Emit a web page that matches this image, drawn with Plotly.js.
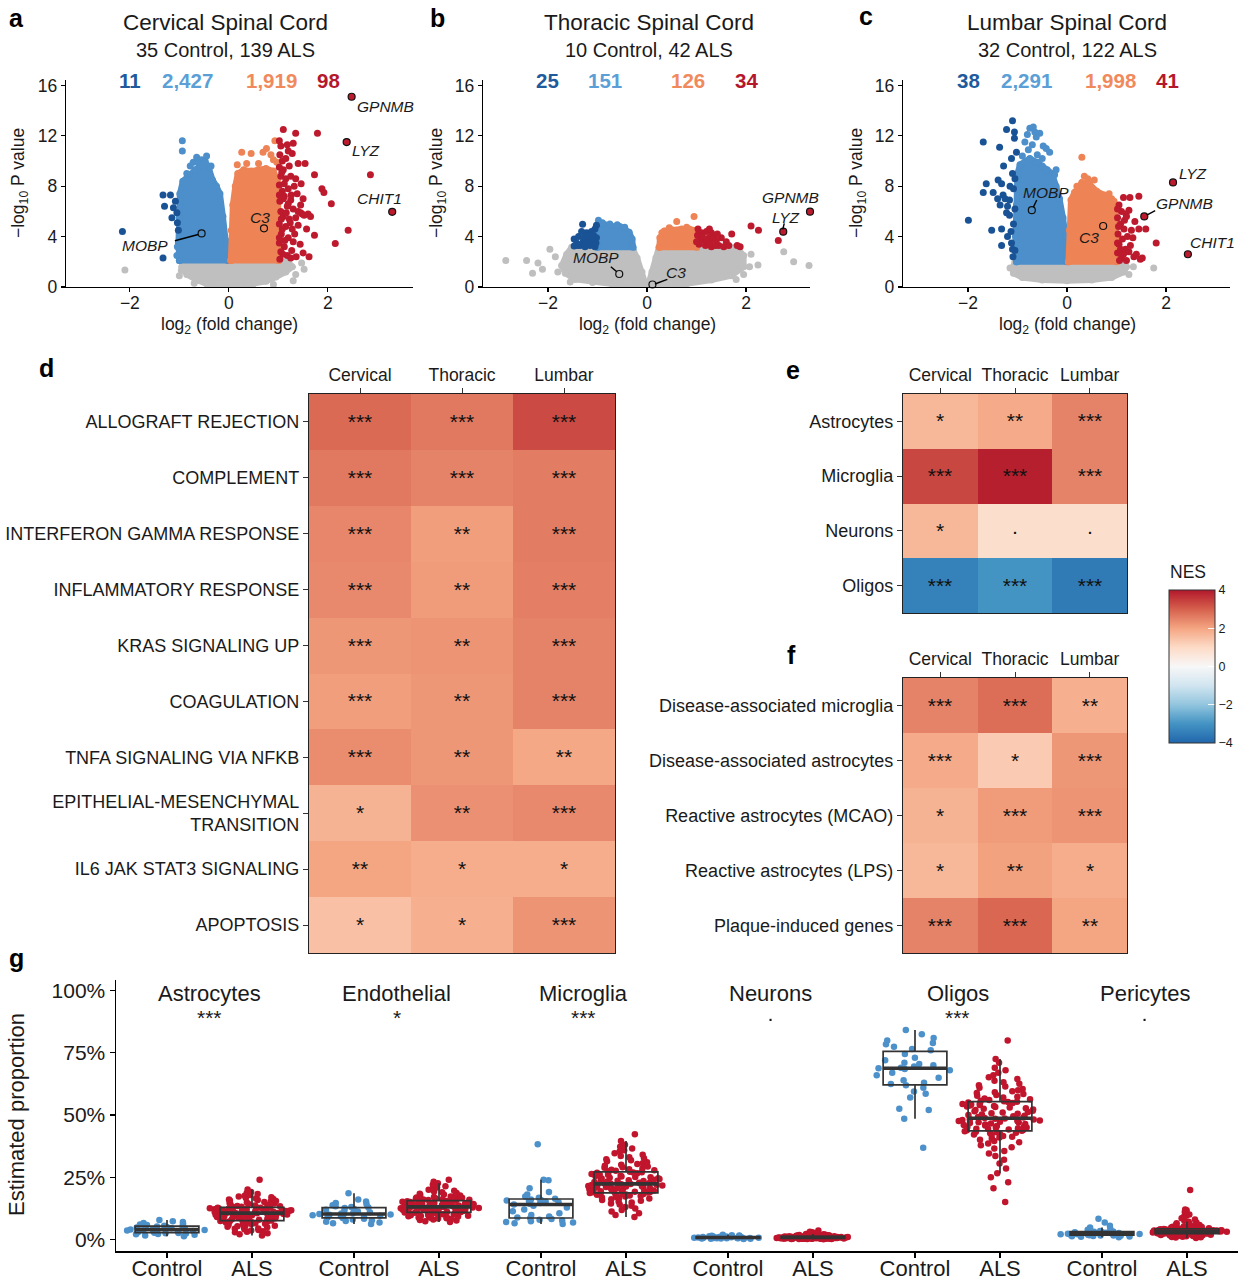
<!DOCTYPE html>
<html><head><meta charset="utf-8">
<script src="https://cdn.plot.ly/plotly-3.0.1.min.js"></script>
<style>html,body{margin:0;padding:0;background:#fff}#chart{width:1246px;height:1280px}</style>
</head><body><div id="chart"></div>
<script>
// ================= DATA =================
// ---- Panel a: Cervical volcano (log2FC, -log10 P) ----
const cervCounts = ['11','2,427','1,919','98'];
const cervGreyPolyX = [-0.88,-0.95,-0.85,-0.65,-0.45,-0.2,0,0.25,0.5,0.75,0.95,1.15,1.28,1.2,1.0,0.5,0,-0.5];
const cervGreyPolyY = [2.1,1.6,1.0,0.55,0.25,0.08,0.02,0.1,0.25,0.45,0.8,1.2,1.6,2.0,2.1,2.1,2.1,2.1];
const cervGreyX = [-2.1,-0.96,1.47,1.52,1.35,-1.0,1.3,0.9,-0.7];
const cervGreyY = [1.35,1.3,1.9,1.4,1.0,0.9,0.5,0.2,0.3];
const cervLBPolyX = [-1.0,-1.02,-1.0,-0.99,-0.93,-0.8,-0.68,-0.58,-0.48,-0.4,-0.33,-0.25,-0.18,-0.12,-0.06,-0.02];
const cervLBPolyY = [2.1,3.5,5.5,7.4,8.4,8.9,9.3,9.6,10.0,9.4,8.5,8.0,7.4,5.6,3.7,2.1];
const cervLBX = [-0.94,-0.94,-0.65,-0.78,-0.55,-0.45,-0.85,-1.04,-1.05,-0.72,-0.62,-0.36];
const cervLBY = [11.6,10.8,10.3,9.6,10.1,10.4,9.0,3.2,2.5,9.9,9.9,9.6];
const cervDBX = [-2.15,-1.33,-1.18,-1.3,-1.12,-1.05,-1.04,-1.33,-1.08,-1.02,-1.15];
const cervDBY = [4.4,7.3,7.3,6.4,6.3,5.9,5.1,2.3,6.8,4.5,5.5];
const cervORPolyX = [0.04,0.05,0.08,0.13,0.18,0.3,0.45,0.6,0.75,0.9,0.98,1.0,1.0];
const cervORPolyY = [2.1,4.5,6.5,8.0,9.0,9.3,9.2,9.3,9.4,9.2,8.5,6.0,2.1];
const cervORX = [0.17,0.26,0.36,0.45,0.6,0.69,0.76,0.85,0.93,0.9,0.97];
const cervORY = [9.7,10.7,9.8,10.6,9.8,10.7,11.0,10.5,11.6,10.1,9.9];
const cervRedX = [1.1,1.35,1.79,2.86,2.41,2.15,2.07,1.88,1.92,1.73,1.73,1.54,1.6,1.65,1.45,
  1.02,1.05,1.03,1.08,1.02,1.1,1.05,1.15,1.02,1.08,1.2,1.12,1.03,1.25,1.18,1.05,1.3,1.1,1.22,1.02,
  1.35,1.15,1.28,1.06,1.2,1.02,1.12,1.3,1.05,1.18,1.03,1.25,1.4,1.45,1.38,1.32,1.22,1.28,1.2,1.4,
  1.15,1.48,1.52,1.25,1.35,1.1,1.16,1.08,1.24,1.33,1.44,1.13,1.27,1.09,1.36,1.5,1.02,1.07,1.18,1.3,
  1.02,1.57,1.62,1.4,1.5,1.46,1.26,1.12,1.2,1.06];
const cervRedY = [12.5,12.2,12.2,8.9,4.5,3.45,6.6,7.8,7.5,8.9,4.1,9.8,5.8,5.6,5.9,
  11.6,11.2,10.5,10.0,9.5,9.3,8.8,8.6,8.1,7.6,7.8,7.2,6.8,6.9,6.4,6.0,6.2,5.6,5.4,5.0,
  5.5,4.8,4.6,4.2,3.9,3.5,3.2,3.6,2.8,2.5,2.2,2.3,4.9,6.5,7.4,8.0,9.6,10.6,10.8,9.8,
  10.2,5.8,5.7,8.8,8.6,7.0,5.9,4.6,5.1,4.2,3.4,3.7,2.9,2.6,2.4,2.7,7.3,9.1,11.3,11.4,
  3.9,4.6,2.4,6.0,7.0,8.2,7.3,8.2,6.6,5.4];
const cervGeneNames = ['GPNMB','LYZ','CHIT1','MOBP','C3'];
const cervGeneX = [2.48,2.38,3.3,-0.55,0.71];
const cervGeneY = [15.1,11.5,5.97,4.25,4.66];

// ---- Panel b: Thoracic volcano ----
const thorCounts = ['25','151','126','34'];
const thorGreyLPolyX = [-1.72,-1.62,-1.52,-1.0,-0.5,-0.3,-0.2,-0.1,-0.02,-0.3,-0.7,-1.1,-1.45,-1.65];
const thorGreyLPolyY = [1.7,2.6,3.15,3.15,3.15,3.15,2.3,1.2,0.1,0.05,0.2,0.35,0.6,1.1];
const thorGreyRPolyX = [0.02,0.1,0.18,0.24,1.0,1.5,1.8,1.95,1.95,1.7,1.3,0.8,0.3];
const thorGreyRPolyY = [0.1,1.2,2.3,3.15,3.15,3.15,3.15,2.5,1.6,0.9,0.55,0.25,0.05];
const thorGreyX = [-2.85,-2.43,-2.31,-2.11,-1.96,-1.85,-1.8,-2.2,2.07,2.24,2.76,2.96,3.27,2.1,1.95,-1.55,1.8];
const thorGreyY = [2.1,2.1,1.1,1.4,3.0,2.4,1.2,1.9,1.6,1.75,2.8,2.0,1.7,2.6,1.0,0.4,0.6];
const thorLBPolyX = [-1.0,-1.02,-0.95,-0.85,-0.7,-0.55,-0.45,-0.36,-0.3,-0.28];
const thorLBPolyY = [3.15,4.6,5.05,4.95,4.8,4.8,4.6,4.35,3.8,3.15];
const thorLBX = [-0.98,-0.6,-0.45,-0.75,-0.9];
const thorLBY = [5.3,4.95,4.75,5.0,5.1];
const thorDBX = [-1.3,-1.47,-1.47,-1.42,-1.35,-1.25,-1.15,-1.05,-1.38,-1.28,-1.18,-1.1,-1.02,-1.22,-1.12,-1.05,-1.32,-1.02,-1.08,-1.4,-1.2,-1.3,-1.15,-1.03,-1.25];
const thorDBY = [4.98,3.8,3.25,3.5,3.3,3.2,3.3,3.2,4.0,3.7,3.8,3.6,3.9,4.3,4.4,4.6,4.4,4.9,4.1,3.3,3.5,3.5,4.0,3.5,4.0];
const thorORPolyX = [0.25,0.26,0.35,0.5,0.7,0.85,0.98,1.0];
const thorORPolyY = [3.15,3.9,4.45,4.55,4.6,4.6,4.5,3.15];
const thorORX = [0.6,0.95,0.3,0.45,0.8];
const thorORY = [5.2,5.6,4.3,4.7,4.75];
const thorRedX = [2.65,2.1,2.25,1.71,1.88,1.82,1.6,1.5,1.45,1.3,1.03,1.1,1.2,1.3,1.08,1.15,1.25,1.35,1.05,1.18,1.4,1.02,1.12,1.22,1.28,1.32,1.38,1.42,1.55,1.65,1.0,1.26];
const thorRedY = [3.7,4.84,4.5,4.2,3.2,3.3,3.6,3.9,3.3,3.2,4.6,4.3,4.4,4.3,3.9,3.7,3.9,4.0,3.4,3.3,3.7,4.1,4.0,3.6,3.4,3.8,3.3,4.2,3.2,3.3,3.6,4.6];
const thorGeneNames = ['GPNMB','LYZ','CHIT1','MOBP','C3'];
const thorGeneX = [3.29,2.75,3.3,-0.56,0.11];
const thorGeneY = [5.98,4.39,2.6,1.03,0.2];

// ---- Panel c: Lumbar volcano ----
const lumbCounts = ['38','2,291','1,998','41'];
const lumbGreyPolyX = [-1.1,-1.05,-0.5,0,0.5,1.1,1.2,1.15,0.9,0.5,0,-0.5,-0.9,-1.08];
const lumbGreyPolyY = [1.5,2.0,2.05,2.05,2.05,2.0,1.6,1.2,0.75,0.55,0.5,0.55,0.75,1.1];
const lumbGreyX = [1.34,1.75,-1.15,1.25];
const lumbGreyY = [1.6,1.5,1.5,1.0];
const lumbLBPolyX = [-1.02,-1.04,-1.02,-1.0,-0.95,-0.85,-0.75,-0.6,-0.5,-0.4,-0.3,-0.22,-0.15,-0.08,-0.03,0];
const lumbLBPolyY = [2.0,4.0,6.5,9.0,9.7,9.9,10.2,9.9,9.6,9.3,9.0,8.0,7.0,5.5,4.0,2.0];
const lumbLBX = [-0.75,-0.68,-0.55,-0.62,-0.48,-0.35,-0.42,-0.7,-0.78,-0.85,-0.9,-0.6,-0.5,-0.22,-0.25,-0.65,-0.8];
const lumbLBY = [12.6,12.7,12.2,11.9,11.2,10.7,11.0,11.3,10.9,11.5,10.4,10.5,10.2,9.3,8.9,12.3,12.1];
const lumbDBX = [-1.99,-1.69,-1.36,-1.22,-1.1,-1.06,-1.02,-1.12,-1.39,-1.32,-1.63,-1.69,-1.49,-1.29,-1.16,-1.52,-1.32,-1.32,-1.16,-1.09,
  -1.05,-1.12,-1.2,-1.08,-1.25,-1.1,-1.15,-1.05,-1.4,-1.22,-1.08,-1.13,-1.28,-1.05,-1.35,-1.1,-1.2,-1.06];
const lumbDBY = [5.3,11.5,11.1,12.5,13.2,12.3,10.7,10.2,8.5,8.2,8.2,7.5,7.5,7.3,6.9,4.5,4.6,3.3,5.7,2.4,
  2.9,3.5,6.4,7.8,7.0,9.0,8.0,6.2,7.0,5.9,5.0,4.4,9.6,8.6,6.5,3.0,4.0,11.8];
const lumbORPolyX = [0.03,0.05,0.08,0.15,0.3,0.45,0.6,0.75,0.9,0.98,1.0,1.0];
const lumbORPolyY = [2.0,4.5,6.9,7.5,8.3,8.2,7.6,7.3,7.0,6.0,4.0,2.0];
const lumbORX = [0.3,0.35,0.2,0.55,0.85,0.95,0.42];
const lumbORY = [10.3,8.8,8.0,8.5,7.4,6.8,8.6];
const lumbRedX = [1.27,1.45,1.14,1.19,1.37,1.59,1.8,1.52,1.35,1.05,1.1,1.02,1.08,1.15,1.03,1.12,1.05,1.18,1.02,1.1,
  1.25,1.22,1.3,1.45,1.4,1.06,1.2,1.28,1.16,1.02,1.08,1.14,1.33,1.25,1.04,1.48,1.02,1.2];
const lumbRedY = [7.1,7.2,7.1,5.8,5.2,4.6,3.5,2.3,2.4,6.5,6.0,5.5,5.0,4.6,4.2,3.8,3.4,3.0,2.7,2.3,
  2.8,4.0,4.5,4.6,2.6,2.1,2.1,3.3,5.3,6.2,3.0,2.6,3.9,6.1,4.8,2.2,3.5,5.6];
const lumbGeneNames = ['LYZ','GPNMB','CHIT1','MOBP','C3'];
const lumbGeneX = [2.14,1.56,2.44,-0.71,0.73];
const lumbGeneY = [8.3,5.6,2.6,6.1,4.84];

// ---- Panel d: Hallmark NES ----
const regions = ['Cervical','Thoracic','Lumbar'];
const hallmarkNames = ['ALLOGRAFT REJECTION','COMPLEMENT','INTERFERON GAMMA RESPONSE','INFLAMMATORY RESPONSE','KRAS SIGNALING UP','COAGULATION','TNFA SIGNALING VIA NFKB','EPITHELIAL-MESENCHYMAL<br>TRANSITION','IL6 JAK STAT3 SIGNALING','APOPTOSIS'];
const hallmarkNES = [[2.85,2.65,3.3],[2.65,2.5,2.6],[2.45,2.1,2.6],[2.4,2.15,2.55],[2.2,2.25,2.5],[2.1,2.2,2.5],[2.35,2.2,1.95],[1.75,2.3,2.4],[2.0,1.85,1.85],[1.5,1.8,2.25]];
const hallmarkSig = [['***','***','***'],['***','***','***'],['***','**','***'],['***','**','***'],['***','**','***'],['***','**','***'],['***','**','**'],['*','**','***'],['**','*','*'],['*','*','***']];

// ---- Panel e: cell type NES ----
const cellTypes = ['Astrocytes','Microglia','Neurons','Oligos'];
const cellNES = [[1.65,1.9,2.5],[3.35,3.9,2.5],[1.65,0.9,0.9],[-3.4,-3.0,-3.55]];
const cellSig = [['*','**','***'],['***','***','***'],['*','·','·'],['***','***','***']];

// ---- Panel f: glial activation sets NES ----
const glialSets = ['Disease-associated microglia','Disease-associated astrocytes','Reactive astrocytes (MCAO)','Reactive astrocytes (LPS)','Plaque-induced genes'];
const glialNES = [[2.5,2.8,1.8],[1.9,1.3,2.2],[1.75,2.15,2.25],[1.65,2.05,1.85],[2.5,2.9,2.0]];
const glialSig = [['***','***','**'],['***','*','***'],['*','***','***'],['*','**','*'],['***','***','**']];

// ---- Panel g: estimated proportions (%) ----
const gCellTypes = ['Astrocytes','Endothelial','Microglia','Neurons','Oligos','Pericytes'];
const gSig = ['***','*','***','·','***','·'];
const gGroups = ['Control','ALS'];
const gYTicks = [0,25,50,75,100];
const gYTickText = ['0%','25%','50%','75%','100%'];
const astroControl = [1.2,1.5,1.8,2.0,2.1,2.3,2.4,2.5,2.6,2.8,3.0,3.1,3.3,3.5,3.6,3.7,3.8,3.9,4.0,4.2,4.3,4.5,4.6,4.8,5.0,5.2,5.3,5.5,5.8,6.0,6.3,6.6,7.0,7.3,7.8];
const astroALS = [1.5,2.0,2.4,2.8,3.0,3.2,3.5,3.7,4.0,4.2,4.4,4.6,4.9,5.1,5.3,5.5,5.7,5.9,6.0,6.2,6.3,6.5,6.6,6.8,6.9,7.0,7.1,7.2,7.3,7.4,
  7.6,7.7,7.8,7.9,8.0,8.1,8.2,8.4,8.5,8.6,8.7,8.8,8.9,9.0,9.1,9.2,9.3,9.4,9.5,9.6,9.7,9.8,9.9,10.0,10.1,10.2,10.2,10.3,10.4,10.5,
  10.6,10.6,10.7,10.8,10.9,11.0,11.0,11.1,11.2,11.3,11.4,11.5,11.5,11.6,11.7,11.8,11.9,12.0,12.0,12.1,12.2,12.3,12.3,12.4,12.5,12.5,12.6,12.7,12.7,12.8,
  12.9,13.0,13.1,13.3,13.4,13.6,13.8,14.0,14.2,14.4,14.6,14.8,15.0,15.2,15.4,15.6,15.8,16.0,16.2,16.4,16.6,16.9,17.2,17.5,17.8,18.2,18.6,19.0,20.0,24.0];
const endoControl = [6.2,6.5,6.8,7.1,7.4,7.7,8.0,8.3,8.6,8.8,9.0,9.3,9.5,9.7,9.9,10.0,10.1,10.2,10.4,10.6,10.9,11.2,11.5,11.9,12.3,12.6,12.8,13.0,13.3,13.7,14.1,14.6,15.2,16.0,18.5];
const endoALS = [7.0,7.3,7.6,7.8,8.0,8.2,8.4,8.5,8.7,8.8,9.0,9.1,9.2,9.3,9.4,9.5,9.6,9.7,9.8,9.9,10.0,10.1,10.2,10.3,10.4,10.5,10.5,10.6,10.7,10.8,
  10.9,11.0,11.0,11.1,11.2,11.3,11.3,11.4,11.5,11.6,11.7,11.8,11.8,11.9,12.0,12.0,12.1,12.2,12.3,12.3,12.4,12.5,12.5,12.6,12.7,12.7,12.8,12.9,12.9,13.0,
  13.1,13.1,13.2,13.3,13.4,13.4,13.5,13.6,13.7,13.8,13.9,14.0,14.0,14.1,14.2,14.3,14.4,14.5,14.6,14.7,14.8,14.9,15.0,15.0,15.1,15.2,15.3,15.3,15.4,15.5,
  15.6,15.7,15.8,15.9,16.0,16.1,16.2,16.4,16.5,16.7,16.8,17.0,17.2,17.4,17.6,17.8,18.0,18.3,18.6,18.9,19.2,19.5,19.9,20.3,20.8,21.3,21.9,22.5,23.2,24.0];
const microControl = [6.2,6.5,6.8,7.0,7.3,7.6,7.9,8.2,8.5,8.8,9.2,9.8,10.5,11.3,12.0,12.8,13.5,14.0,14.3,14.6,14.9,15.2,15.4,15.6,15.8,16.0,16.3,16.7,17.2,18.0,19.0,20.5,23.8,24.0,38.2];
const microALS = [9.0,9.8,10.5,11.2,11.8,12.4,13.0,13.5,14.0,14.4,14.8,15.2,15.5,15.8,16.1,16.4,16.6,16.8,17.0,17.2,17.4,17.6,17.8,17.9,18.0,18.1,18.2,18.4,18.5,18.6,
  18.8,18.9,19.0,19.1,19.2,19.3,19.4,19.5,19.6,19.7,19.8,20.0,20.1,20.2,20.4,20.5,20.6,20.8,20.9,21.0,21.2,21.3,21.4,21.6,21.7,21.8,21.9,22.0,22.1,22.2,
  22.4,22.5,22.6,22.8,23.0,23.1,23.3,23.5,23.6,23.8,24.0,24.1,24.3,24.5,24.6,24.8,25.0,25.1,25.3,25.5,25.6,25.8,26.0,26.1,26.3,26.5,26.6,26.8,26.9,27.0,
  27.2,27.4,27.6,27.8,28.0,28.2,28.5,28.8,29.0,29.3,29.6,30.0,30.3,30.6,31.0,31.4,31.8,32.2,32.6,33.0,33.5,34.0,34.6,35.2,35.8,36.5,37.2,38.0,39.5,42.3];
const neuronControl = [0.1,0.2,0.2,0.3,0.3,0.3,0.4,0.4,0.4,0.5,0.5,0.5,0.5,0.6,0.6,0.6,0.6,0.7,0.7,0.7,0.8,0.8,0.8,0.9,0.9,1.0,1.0,1.1,1.1,1.2,1.3,1.4,1.5,1.6,1.8];
const neuronALS = [0.05,0.1,0.1,0.15,0.15,0.2,0.2,0.2,0.25,0.25,0.3,0.3,0.3,0.3,0.35,0.35,0.35,0.4,0.4,0.4,
  0.4,0.45,0.45,0.45,0.5,0.5,0.5,0.5,0.5,0.55,0.55,0.55,0.6,0.6,0.6,0.6,0.6,0.65,0.65,0.65,
  0.7,0.7,0.7,0.7,0.75,0.75,0.75,0.8,0.8,0.8,0.8,0.85,0.85,0.85,0.9,0.9,0.9,0.95,0.95,1.0,
  1.0,1.0,1.05,1.05,1.1,1.1,1.1,1.15,1.15,1.2,1.2,1.25,1.25,1.3,1.3,1.35,1.4,1.4,1.45,1.5,
  1.5,1.55,1.6,1.65,1.7,1.75,1.8,1.85,1.9,2.0,2.1,2.2,2.3,2.4,2.6,2.8,3.0,3.5,0.3,0.5,
  0.7,0.9,1.1,0.4,0.6,0.8,0.2,0.45,0.65,0.85,1.05,0.35,0.55,0.75,0.95,1.15,0.25,0.5,0.7,0.9];
const oligoControl = [36.8,48.5,52.0,52.5,57.0,58.5,59.5,61.0,62.0,62.5,63.0,64.0,65.0,66.0,67.0,68.0,68.5,68.8,69.0,69.5,70.0,70.5,71.0,72.0,73.0,74.5,76.0,76.5,77.5,78.5,79.0,80.0,81.0,82.5,84.2];
const oligoALS = [15.0,20.5,23.0,25.0,26.6,28.5,30.5,32.0,33.5,34.5,35.5,36.5,37.0,37.8,38.5,39.0,39.5,40.0,40.5,41.0,41.3,41.6,42.0,42.2,42.5,42.7,42.9,43.1,43.3,43.5,
  43.7,43.9,44.0,44.2,44.4,44.5,44.7,44.9,45.0,45.2,45.4,45.6,45.8,46.0,46.2,46.4,46.6,46.8,47.0,47.1,47.3,47.5,47.6,47.8,47.9,48.0,48.2,48.3,48.5,48.6,
  48.8,49.0,49.2,49.5,49.7,50.0,50.2,50.5,50.7,51.0,51.2,51.5,51.7,52.0,52.2,52.5,52.7,53.0,53.2,53.4,53.6,53.8,54.0,54.2,54.4,54.6,54.8,55.0,55.2,55.3,
  55.5,55.7,56.0,56.3,56.6,57.0,57.3,57.7,58.0,58.4,58.8,59.2,59.6,60.0,60.5,61.0,61.5,62.0,62.6,63.2,63.8,64.5,65.2,66.0,67.0,68.0,69.0,71.0,72.5,80.0];
const periControl = [0.8,1.0,1.1,1.2,1.3,1.4,1.5,1.5,1.6,1.7,1.8,1.8,1.9,2.0,2.0,2.1,2.2,2.2,2.3,2.4,2.5,2.6,2.7,2.8,2.9,3.0,3.1,3.3,3.5,3.8,4.2,4.8,5.5,6.8,8.3];
const periALS = [0.5,0.7,0.8,0.9,1.0,1.1,1.2,1.3,1.4,1.5,1.5,1.6,1.7,1.7,1.8,1.8,1.9,1.9,2.0,2.0,
  2.0,2.1,2.1,2.2,2.2,2.3,2.3,2.3,2.4,2.4,2.5,2.5,2.5,2.6,2.6,2.7,2.7,2.7,2.8,2.8,
  2.8,2.9,2.9,2.9,3.0,3.0,3.0,3.0,3.1,3.1,3.1,3.2,3.2,3.2,3.3,3.3,3.3,3.4,3.4,3.4,
  3.5,3.5,3.5,3.6,3.6,3.7,3.7,3.7,3.8,3.8,3.9,3.9,4.0,4.0,4.1,4.1,4.2,4.2,4.3,4.3,
  4.4,4.5,4.6,4.7,4.8,4.9,5.0,5.1,5.2,5.4,5.6,5.8,6.0,6.2,6.5,6.8,7.1,7.5,8.0,8.5,
  9.0,9.5,10.0,11.0,11.7,12.0,2.2,2.6,3.0,3.4,1.6,2.4,2.8,3.2,3.6,1.9,2.5,3.5,4.5,19.8];

// ================= STYLE / LAYOUT =================
const W = 1246, H = 1280;
const FONT = 'Liberation Sans, Arial, Helvetica, sans-serif';
const TXT = '#1a1a1a';
const C = {db:'#1a5395', lb:'#4c8fca', or:'#ee8456', red:'#bd1a2e', grey:'#bfbfbf'};
const CNT = {db:'#1e5a9c', lb:'#5b9fd6', or:'#f08a5d', red:'#b5182d'};
const CTRL = '#4d91cb', ALSC = '#c0152d';
const dx = (a,b) => [a/W, b/W];
const dy = (t,b) => [1-b/H, 1-t/H];

const traces = [];
function poly(xs, ys, col, xa, ya) {
  traces.push({type:'scatter', mode:'lines+markers', x: xs.concat([xs[0]]), y: ys.concat([ys[0]]),
    fill:'toself', fillcolor: col, line:{color: col, width: 6}, marker:{color: col, size: 7},
    xaxis: xa, yaxis: ya, hoverinfo:'skip', showlegend:false});
}
function pts(xs, ys, col, xa, ya, extra) {
  traces.push(Object.assign({type:'scatter', mode:'markers', x: xs, y: ys, cliponaxis:false,
    marker:{color: col, size: 7}, xaxis: xa, yaxis: ya, hoverinfo:'skip', showlegend:false}, extra||{}));
}

// Panel a
poly(cervGreyPolyX, cervGreyPolyY, C.grey, 'x', 'y');
pts(cervGreyX, cervGreyY, C.grey, 'x', 'y');
poly(cervLBPolyX, cervLBPolyY, C.lb, 'x', 'y');
pts(cervLBX, cervLBY, C.lb, 'x', 'y');
pts(cervDBX, cervDBY, C.db, 'x', 'y');
poly(cervORPolyX, cervORPolyY, C.or, 'x', 'y');
pts(cervORX, cervORY, C.or, 'x', 'y');
pts(cervRedX, cervRedY, C.red, 'x', 'y');
pts(cervGeneX, cervGeneY, C.red, 'x', 'y', {marker:{color:[C.red,C.red,C.red,C.lb,C.or], size:7, line:{color:'#111', width:1.2}}});

// Panel b
poly(thorGreyLPolyX, thorGreyLPolyY, C.grey, 'x2', 'y2');
poly(thorGreyRPolyX, thorGreyRPolyY, C.grey, 'x2', 'y2');
pts(thorGreyX, thorGreyY, C.grey, 'x2', 'y2');
poly(thorLBPolyX, thorLBPolyY, C.lb, 'x2', 'y2');
pts(thorLBX, thorLBY, C.lb, 'x2', 'y2');
pts(thorDBX, thorDBY, C.db, 'x2', 'y2');
poly(thorORPolyX, thorORPolyY, C.or, 'x2', 'y2');
pts(thorORX, thorORY, C.or, 'x2', 'y2');
pts(thorRedX, thorRedY, C.red, 'x2', 'y2');
pts(thorGeneX, thorGeneY, C.red, 'x2', 'y2', {marker:{color:[C.red,C.red,C.grey,C.grey,C.grey], size:7, line:{color:'#111', width:1.2}}});

// Panel c
poly(lumbGreyPolyX, lumbGreyPolyY, C.grey, 'x3', 'y3');
pts(lumbGreyX, lumbGreyY, C.grey, 'x3', 'y3');
poly(lumbLBPolyX, lumbLBPolyY, C.lb, 'x3', 'y3');
pts(lumbLBX, lumbLBY, C.lb, 'x3', 'y3');
pts(lumbDBX, lumbDBY, C.db, 'x3', 'y3');
poly(lumbORPolyX, lumbORPolyY, C.or, 'x3', 'y3');
pts(lumbORX, lumbORY, C.or, 'x3', 'y3');
pts(lumbRedX, lumbRedY, C.red, 'x3', 'y3');
pts(lumbGeneX, lumbGeneY, C.red, 'x3', 'y3', {marker:{color:[C.red,C.red,C.red,C.lb,C.or], size:7, line:{color:'#111', width:1.2}}});

// Heatmaps
const RdBu = [[0,'#2166ac'],[0.125,'#4393c3'],[0.25,'#92c5de'],[0.375,'#d1e5f0'],[0.5,'#f7f7f7'],[0.625,'#fddbc7'],[0.75,'#f4a582'],[0.875,'#d6604d'],[1,'#b2182b']];
function heat(z, rows, sig, xa, ya, showscale) {
  const t = {type:'heatmap', z: z, x: regions, y: rows, text: sig, texttemplate:'%{text}',
    textfont:{size:21, color:'#111', family: FONT}, colorscale: RdBu, zmin:-4, zmax:4,
    showscale: !!showscale, xaxis: xa, yaxis: ya, hoverinfo:'skip'};
  if (showscale) {
    t.colorbar = {x: 1169/W, xanchor:'left', xref:'paper', y: 1-590/H, yanchor:'top', yref:'paper',
      len:153, lenmode:'pixels', thickness:46, thicknessmode:'pixels', xpad:0, ypad:0,
      outlinewidth:1, outlinecolor:'#333', tickvals:[-4,-2,0,2,4], ticks:'inside', ticklen:7,
      tickcolor:'rgba(255,255,255,0.9)', tickwidth:1.2,
      tickfont:{size:12.5, color:TXT, family:FONT}};
  }
  traces.push(t);
}
heat(hallmarkNES, hallmarkNames, hallmarkSig, 'x4', 'y4', false);
heat(cellNES, cellTypes, cellSig, 'x5', 'y5', true);
heat(glialNES, glialSets, glialSig, 'x6', 'y6', false);

// Panel g boxes
const controlVals = [astroControl, endoControl, microControl, neuronControl, oligoControl, periControl];
const alsVals = [astroALS, endoALS, microALS, neuronALS, oligoALS, periALS];
const gTickVals = [], gTickText = [];
const boxOutlines = [];
const medianShapes = [];
function median(a) { const s = a.slice().sort((p,q)=>p-q); const n = s.length; return n%2 ? s[(n-1)/2] : (s[n/2-1]+s[n/2])/2; }
gCellTypes.forEach((ct, k) => {
  [[controlVals[k], CTRL, 0.6], [alsVals[k], ALSC, 1.6]].forEach(([vals, col, off], gi) => {
    const pos = k*2.2 + off;
    gTickVals.push(pos); gTickText.push(gGroups[gi]);
    traces.push({type:'box', y: vals, x0: pos, xaxis:'x7', yaxis:'y7', width:1.0,
      boxpoints:'all', jitter:1, pointpos:0, marker:{color: col, size:6.5},
      line:{width:0, color:'rgba(0,0,0,0)'}, fillcolor:'rgba(0,0,0,0)', whiskerwidth:0,
      hoverinfo:'skip', showlegend:false});
    boxOutlines.push({type:'box', y: vals, x0: pos, xaxis:'x7', yaxis:'y7', width:0.75,
      boxpoints:'outliers', marker:{opacity:0, size:1}, line:{color:'#333333', width:1.7},
      fillcolor:'rgba(0,0,0,0)', whiskerwidth:0, hoverinfo:'skip', showlegend:false});
    const m = median(vals);
    medianShapes.push({type:'line', xref:'x7', yref:'y7', x0: pos-0.375, x1: pos+0.375, y0: m, y1: m,
      line:{color:'#333333', width:3.6}});
  });
});
boxOutlines.forEach(b => traces.push(b));

// Axes
const volcAx = {showline:true, linecolor:'#000', linewidth:1.2, ticks:'outside', ticklen:4, tickwidth:1.2,
  tickcolor:'#000', showgrid:false, zeroline:false, tickfont:{size:17.5, color:TXT}, fixedrange:true};
const volcX = Object.assign({}, volcAx, {ticklabelstandoff:-4, tickvals:[-2,0,2]});
const heatAx = {showline:true, mirror:true, linecolor:'#222', linewidth:1.2, ticks:'outside', ticklen:5,
  tickwidth:1, tickcolor:'#333', showgrid:false, zeroline:false, type:'category', fixedrange:true};

const layout = {
  width: W, height: H, margin:{l:0, r:0, t:0, b:0}, paper_bgcolor:'#fff', plot_bgcolor:'rgba(0,0,0,0)',
  font:{family: FONT, color: TXT}, showlegend:false, boxmode:'overlay',
  xaxis: Object.assign({}, volcX, {domain: dx(66,413), range:[-3.29,3.72], anchor:'y'}),
  yaxis: Object.assign({}, volcAx, {domain: dy(80,287), range:[0,16.43], tickvals:[0,4,8,12,16], anchor:'x'}),
  xaxis2: Object.assign({}, volcX, {domain: dx(483,810), range:[-3.31,3.29], anchor:'y2'}),
  yaxis2: Object.assign({}, volcAx, {domain: dy(80,287), range:[0,16.43], tickvals:[0,4,8,12,16], anchor:'x2'}),
  xaxis3: Object.assign({}, volcX, {domain: dx(903,1230), range:[-3.31,3.29], anchor:'y3'}),
  yaxis3: Object.assign({}, volcAx, {domain: dy(80,287), range:[0,16.43], tickvals:[0,4,8,12,16], anchor:'x3'}),
  xaxis4: Object.assign({}, heatAx, {domain: dx(309,615), side:'top', anchor:'y4', tickfont:{size:17.5, color:TXT}}),
  yaxis4: Object.assign({}, heatAx, {domain: dy(394,953), autorange:'reversed', anchor:'x4', tickfont:{size:18, color:TXT}}),
  xaxis5: Object.assign({}, heatAx, {domain: dx(903,1127), side:'top', anchor:'y5', tickfont:{size:17.5, color:TXT}}),
  yaxis5: Object.assign({}, heatAx, {domain: dy(394,613), autorange:'reversed', anchor:'x5', tickfont:{size:18, color:TXT}}),
  xaxis6: Object.assign({}, heatAx, {domain: dx(903,1127), side:'top', anchor:'y6', tickfont:{size:17.5, color:TXT}}),
  yaxis6: Object.assign({}, heatAx, {domain: dy(678,953), autorange:'reversed', anchor:'x6', tickfont:{size:18, color:TXT}}),
  xaxis7: {domain: dx(116,1238), range:[0,13.2], anchor:'y7', tickmode:'array', tickvals: gTickVals, ticktext: gTickText,
    ticklabelstandoff:-8, tickfont:{size:22, color:TXT},
    showline:true, linecolor:'#000', linewidth:1.5, ticks:'outside', ticklen:5, tickwidth:1.3, tickcolor:'#000',
    showgrid:false, zeroline:false, fixedrange:true},
  yaxis7: {domain: dy(980,1251), range:[-4.7,104.3], anchor:'x7', tickmode:'array', tickvals: gYTicks, ticktext: gYTickText,
    showline:true, linecolor:'#000', linewidth:1.5, ticks:'outside', ticklen:5, tickwidth:1.3, tickcolor:'#000',
    showgrid:false, zeroline:false, tickfont:{size:21, color:TXT}, fixedrange:true},
  annotations: [], shapes: medianShapes.slice()
};

function ann(text, x, y, o) {
  o = o || {};
  layout.annotations.push({text: text, x: x/W, y: 1-y/H, xref:'paper', yref:'paper', showarrow:false,
    xanchor: o.xanchor || 'center', yanchor:'middle', textangle: o.angle || 0,
    font:{size: o.size || 17.5, color: o.color || TXT, family: FONT, weight: o.weight || 'normal'}});
}
function dann(text, x, y, xa, ya, o) {
  o = o || {};
  layout.annotations.push({text: text, x: x, y: y, xref: xa, yref: ya, showarrow:false,
    xanchor:'center', yanchor:'middle', font:{size: o.size || 15.5, color: TXT, family: FONT, style: o.style || 'italic'}});
}
function lead(x0, y0, x1, y1, xa, ya) {
  layout.shapes.push({type:'line', xref: xa, yref: ya, x0:x0, y0:y0, x1:x1, y1:y1, line:{color:'#000', width:1.4}});
}

// panel letters
[['a',16,18],['b',437,18],['c',866,16],['d',46,368],['e',793,370],['f',791,655],['g',16,958]]
  .forEach(([t,x,y]) => ann(t, x, y, {size:25, weight:'bold', color:'#000'}));

// volcano titles
[['Cervical Spinal Cord','35 Control, 139 ALS',225],['Thoracic Spinal Cord','10 Control, 42 ALS',649],['Lumbar Spinal Cord','32 Control, 122 ALS',1067]]
  .forEach(([t,s,x]) => { ann(t, x, 22, {size:22.5}); ann(s, x, 50, {size:20}); });

// counts
const cntCols = [CNT.db, CNT.lb, CNT.or, CNT.red];
[[cervCounts,[130,188,271,328]],[thorCounts,[547,605,688,746]],[lumbCounts,[968,1026,1110,1167]]]
  .forEach(([cs, xs]) => cs.forEach((c,i) => ann(c, xs[i], 80, {size:20.5, weight:'bold', color: cntCols[i]})));

// volcano axis titles
[[20,229],[438,647],[858,1067]].forEach(([yx, xx]) => {
  ann('\u2212log<sub>10</sub> P value', yx, 183, {angle:-90, size:17.5});
  ann('log<sub>2</sub> (fold change)', xx, 325, {size:17.5});
});

// gene labels
dann('GPNMB', 3.16, 14.3, 'x', 'y'); dann('LYZ', 2.78, 10.8, 'x', 'y'); dann('CHIT1', 3.04, 7.04, 'x', 'y');
dann('MOBP', -1.7, 3.33, 'x', 'y'); dann('C3', 0.63, 5.53, 'x', 'y');
lead(-1.09, 3.67, -0.62, 4.17, 'x', 'y');
dann('GPNMB', 2.9, 7.12, 'x2', 'y2'); dann('LYZ', 2.8, 5.53, 'x2', 'y2'); dann('CHIT1', 3.62, 3.55, 'x2', 'y2');
dann('MOBP', -1.03, 2.36, 'x2', 'y2'); dann('C3', 0.59, 1.14, 'x2', 'y2');
lead(-0.73, 1.61, -0.61, 1.21, 'x2', 'y2'); lead(0.16, 0.24, 0.41, 0.61, 'x2', 'y2'); lead(2.77, 5.05, 2.74, 4.58, 'x2', 'y2');
dann('LYZ', 2.54, 9.02, 'x3', 'y3'); dann('GPNMB', 2.38, 6.59, 'x3', 'y3'); dann('CHIT1', 2.93, 3.52, 'x3', 'y3');
dann('MOBP', -0.42, 7.48, 'x3', 'y3'); dann('C3', 0.44, 3.94, 'x3', 'y3');
lead(-0.61, 6.9, -0.68, 6.33, 'x3', 'y3'); lead(1.78, 6.06, 1.61, 5.71, 'x3', 'y3');

// NES title
ann('NES', 1188, 572, {size:17.5});

// panel g
ann('Estimated proportion', 16, 1115, {angle:-90, size:22});
gCellTypes.forEach((ct, k) => {
  layout.annotations.push({text: ct, x: k*2.2+1.1, y: 98.8, xref:'x7', yref:'y7', showarrow:false,
    xanchor:'center', yanchor:'middle', font:{size:22, color:TXT, family:FONT}});
  layout.annotations.push({text: gSig[k], x: k*2.2+1.1, y: 89.3, xref:'x7', yref:'y7', showarrow:false,
    xanchor:'center', yanchor:'middle', font:{size:21, color:TXT, family:FONT}});
});

Plotly.newPlot('chart', traces, layout, {displayModeBar:false, staticPlot:true});
</script></body></html>
